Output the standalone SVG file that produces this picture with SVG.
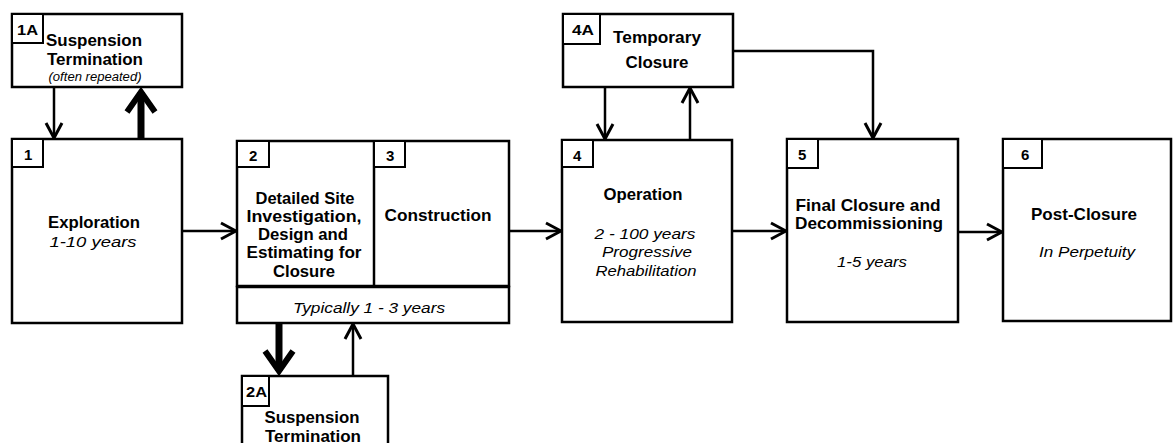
<svg xmlns="http://www.w3.org/2000/svg" width="1173" height="443" viewBox="0 0 1173 443">
<style>
.box{fill:#fff;stroke:#000;stroke-width:2.5}
.lbl{fill:#fff;stroke:#000;stroke-width:2}
.ln{fill:none;stroke:#000;stroke-width:2.5}
.thk{fill:none;stroke:#000;stroke-width:7}
text{font-family:"Liberation Sans",Arial,sans-serif;fill:#000}
.b{font-weight:bold;font-size:16.5px;text-anchor:middle}
.n{font-weight:bold;font-size:15px}
.i{font-style:italic;font-size:15.5px;text-anchor:middle}
.s{font-style:italic;font-size:12px;text-anchor:middle}
</style>
<defs>
<marker id="arr" viewBox="0 0 20 20" markerWidth="20" markerHeight="20" markerUnits="userSpaceOnUse" refX="17" refY="10" orient="auto">
<path d="M2,2 L17,10 L2,18" fill="none" stroke="#000" stroke-width="3"/>
</marker>
<marker id="arrT" viewBox="0 0 32 34" markerWidth="32" markerHeight="34" markerUnits="userSpaceOnUse" refX="23" refY="17" orient="auto">
<path d="M3,3 L23,17 L3,31" fill="none" stroke="#000" stroke-width="6"/>
</marker>
</defs>

<g id="connectors">
<line class="ln" x1="54" y1="87" x2="54" y2="138" marker-end="url(#arr)"/>
<line class="thk" x1="141" y1="139" x2="141" y2="92" marker-end="url(#arrT)"/>
<line class="ln" x1="182" y1="231" x2="236" y2="231" marker-end="url(#arr)"/>
<line class="ln" x1="509" y1="231" x2="561" y2="231" marker-end="url(#arr)"/>
<line class="ln" x1="732" y1="231" x2="786" y2="231" marker-end="url(#arr)"/>
<line class="ln" x1="958" y1="232" x2="1002" y2="232" marker-end="url(#arr)"/>
<line class="ln" x1="605" y1="87" x2="605" y2="139" marker-end="url(#arr)"/>
<line class="ln" x1="690" y1="140" x2="690" y2="88" marker-end="url(#arr)"/>
<polyline class="ln" points="733,51 873,51 873,138" marker-end="url(#arr)"/>
<line class="thk" x1="279" y1="323" x2="279" y2="371" marker-end="url(#arrT)"/>
<line class="ln" x1="353" y1="376" x2="353" y2="324" marker-end="url(#arr)"/>
</g>

<g id="node-1A">
<rect class="box" x="12" y="14" width="170" height="73"/>
<rect class="lbl" x="12" y="14" width="31" height="29"/>
<text class="n" x="17" y="35" textLength="21" lengthAdjust="spacingAndGlyphs">1A</text>
<text class="b" x="94" y="46" textLength="96" lengthAdjust="spacingAndGlyphs">Suspension</text>
<text class="b" x="95" y="65" textLength="96" lengthAdjust="spacingAndGlyphs">Termination</text>
<text class="s" x="95" y="81" textLength="93" lengthAdjust="spacingAndGlyphs">(often repeated)</text>
</g>

<g id="node-1">
<rect class="box" x="12" y="139" width="170" height="184"/>
<rect class="lbl" x="12" y="139" width="31" height="28"/>
<text class="n" x="24" y="160">1</text>
<text class="b" x="94" y="228" textLength="92" lengthAdjust="spacingAndGlyphs">Exploration</text>
<text class="i" x="93" y="247" textLength="87" lengthAdjust="spacingAndGlyphs">1-10 years</text>
</g>

<g id="node-2-3">
<rect class="box" x="237" y="141" width="272" height="145"/>
<line class="ln" x1="374" y1="141" x2="374" y2="286"/>
<rect class="lbl" x="237" y="141" width="32" height="26"/>
<text class="n" x="249" y="161">2</text>
<rect class="lbl" x="374" y="141" width="31" height="26"/>
<text class="n" x="386" y="161">3</text>
<text class="b" x="305" y="204" textLength="99" lengthAdjust="spacingAndGlyphs">Detailed Site</text>
<text class="b" x="304" y="222" textLength="115" lengthAdjust="spacingAndGlyphs">Investigation,</text>
<text class="b" x="303" y="240" textLength="90" lengthAdjust="spacingAndGlyphs">Design and</text>
<text class="b" x="304" y="258" textLength="115" lengthAdjust="spacingAndGlyphs">Estimating for</text>
<text class="b" x="304" y="277" textLength="62" lengthAdjust="spacingAndGlyphs">Closure</text>
<text class="b" x="438" y="221" textLength="107" lengthAdjust="spacingAndGlyphs">Construction</text>
<rect class="box" x="237" y="287" width="272" height="36"/>
<text class="i" x="369" y="313" textLength="152" lengthAdjust="spacingAndGlyphs">Typically  1 - 3 years</text>
</g>

<g id="node-2A">
<rect class="box" x="242" y="376" width="146" height="90"/>
<rect class="lbl" x="242" y="376" width="27" height="30"/>
<text class="n" x="246" y="397" textLength="21" lengthAdjust="spacingAndGlyphs">2A</text>
<text class="b" x="312" y="423" textLength="95" lengthAdjust="spacingAndGlyphs">Suspension</text>
<text class="b" x="313" y="442" textLength="96" lengthAdjust="spacingAndGlyphs">Termination</text>
</g>

<g id="node-4A">
<rect class="box" x="563" y="14" width="170" height="73"/>
<rect class="lbl" x="563" y="14" width="37" height="30"/>
<text class="n" x="572" y="35" textLength="22" lengthAdjust="spacingAndGlyphs">4A</text>
<text class="b" x="657" y="43" textLength="88" lengthAdjust="spacingAndGlyphs">Temporary</text>
<text class="b" x="657" y="68" textLength="63" lengthAdjust="spacingAndGlyphs">Closure</text>
</g>

<g id="node-4">
<rect class="box" x="562" y="140" width="170" height="182"/>
<rect class="lbl" x="562" y="140" width="31" height="27"/>
<text class="n" x="573" y="161">4</text>
<text class="b" x="643" y="200" textLength="79" lengthAdjust="spacingAndGlyphs">Operation</text>
<text class="i" x="645" y="239" textLength="101" lengthAdjust="spacingAndGlyphs">2 - 100 years</text>
<text class="i" x="647" y="257" textLength="90" lengthAdjust="spacingAndGlyphs">Progressive</text>
<text class="i" x="646" y="276" textLength="101" lengthAdjust="spacingAndGlyphs">Rehabilitation</text>
</g>

<g id="node-5">
<rect class="box" x="787" y="139" width="171" height="183"/>
<rect class="lbl" x="787" y="139" width="31" height="29"/>
<text class="n" x="798" y="160">5</text>
<text class="b" x="868" y="211" textLength="145" lengthAdjust="spacingAndGlyphs">Final Closure and</text>
<text class="b" x="869" y="229" textLength="148" lengthAdjust="spacingAndGlyphs">Decommissioning</text>
<text class="i" x="872" y="267" textLength="70" lengthAdjust="spacingAndGlyphs">1-5 years</text>
</g>

<g id="node-6">
<rect class="box" x="1003" y="139" width="168" height="182"/>
<rect class="lbl" x="1003" y="139" width="39" height="29"/>
<text class="n" x="1021" y="160">6</text>
<text class="b" x="1084" y="220" textLength="106" lengthAdjust="spacingAndGlyphs">Post-Closure</text>
<text class="i" x="1087" y="257" textLength="96" lengthAdjust="spacingAndGlyphs">In Perpetuity</text>
</g>
</svg>
